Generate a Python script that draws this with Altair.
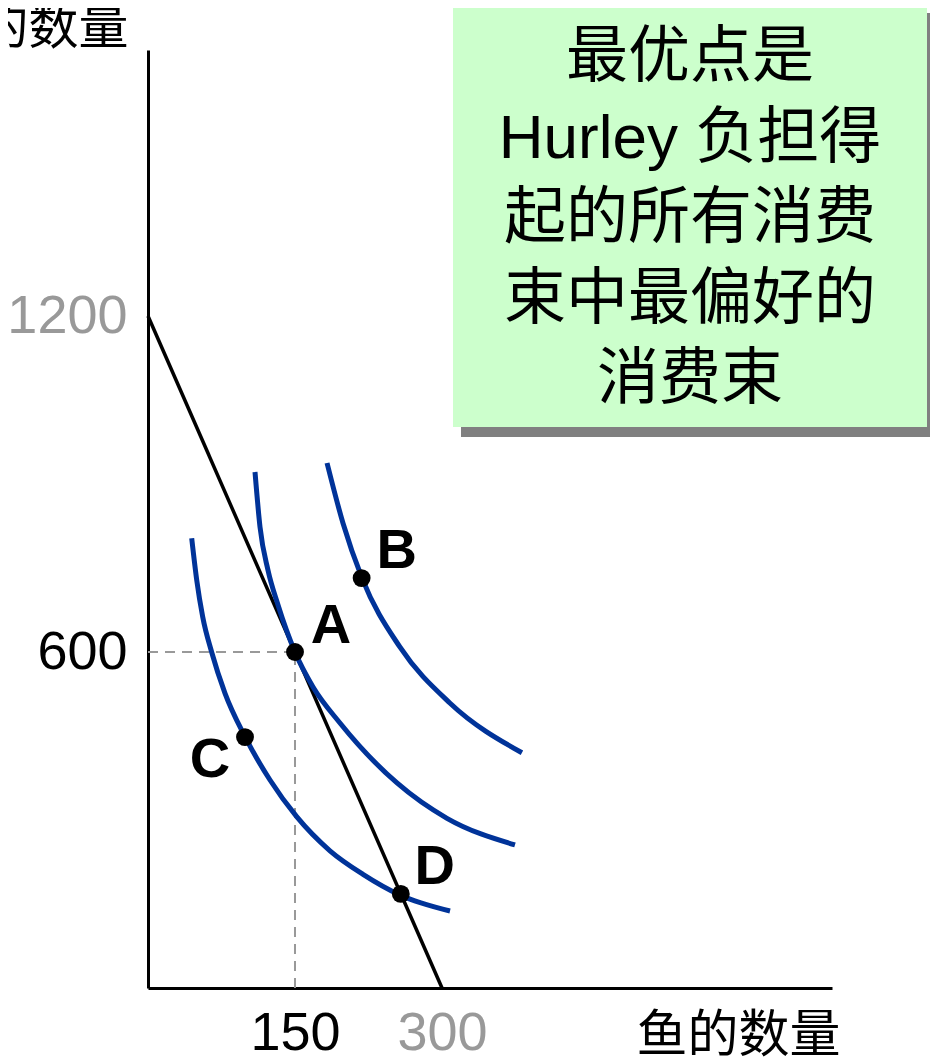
import altair as alt
import pandas as pd

# ---------- data ----------
# indifference curves: quantity of fish (x) vs quantity of the other good (y)
ic1_x = [44.6, 49.7, 55.8, 65.0, 78.6, 99.0, 124.5, 151.7, 185.7, 219.4, 257.1, 308.2]
ic1_y = [803.0, 728.6, 663.0, 599.5, 526.3, 448.8, 371.4, 305.9, 245.0, 203.0, 166.1, 137.5]
ic2_x = [109.2, 114.3, 122.4, 132.7, 150.0, 168.4, 195.9, 254.1, 305.1, 374.5]
ic2_y = [921.4, 823.2, 746.4, 683.9, 600.0, 537.5, 473.2, 366.1, 303.0, 255.4]
ic3_x = [182.7, 199.0, 218.4, 257.0, 308.0, 381.6]
ic3_y = [937.5, 830, 732, 609, 509, 420]

# budget line
budget_x = [0, 300]
budget_y = [1200, 0]

# labelled consumption bundles
pt_names = ["A", "B", "C", "D"]
pt_x = [150, 218, 99, 258]
pt_y = [600, 732, 448, 168]

x_ticks = [150, 300]
y_ticks = [600, 1200]
x_title = "鱼的数量"
y_title = "的数量"
box_lines = ["最优点是", "Hurley 负担得", "起的所有消费", "束中最偏好的", "消费束"]

# ---------- tables ----------
curves = pd.concat([
    pd.DataFrame({"x": ic1_x, "y": ic1_y, "curve": "I1"}),
    pd.DataFrame({"x": ic2_x, "y": ic2_y, "curve": "I2"}),
    pd.DataFrame({"x": ic3_x, "y": ic3_y, "curve": "I3"}),
])
budget = pd.DataFrame({"x": budget_x, "y": budget_y})
points = pd.DataFrame({"name": pt_names, "x": pt_x, "y": pt_y})
ax, ay = pt_x[0], pt_y[0]
guides = pd.DataFrame({"x": [0, ax], "x2": [ax, ax], "y": [ay, 0], "y2": [ay, ay]})
dummy = pd.DataFrame({"d": [0]})

NUM_FONT = "Liberation Sans, Arial"
CJK_FONT = "Noto Sans CJK SC"

xscale = alt.Scale(domain=[0, 698], nice=False, zero=True)
yscale = alt.Scale(domain=[0, 1675], nice=False, zero=True)

x_axis = alt.Axis(
    values=x_ticks, format="d", grid=False, ticks=False, tickSize=0,
    domainColor="black", domainWidth=3,
    labelFont=NUM_FONT, labelFontSize=54, labelPadding=18,
    labelColor={"condition": {"test": "datum.value == 300", "value": "#999999"}, "value": "black"},
    labelFlush=False, labelOverlap=False,
    title=x_title, titleFont=CJK_FONT, titleFontSize=51, titleFontWeight="normal",
    titleColor="black", titleAngle=0, titleAlign="right", titleBaseline="middle",
    titleX=692, titleY=48,
)
y_axis = alt.Axis(
    values=y_ticks, format="d", grid=False, ticks=False, tickSize=0,
    domainColor="black", domainWidth=3,
    labelFont=NUM_FONT, labelFontSize=54, labelPadding=21,
    labelColor={"condition": {"test": "datum.value == 1200", "value": "#999999"}, "value": "black"},
    labelFlush=False, labelOverlap=False,
    title=y_title, titleFont=CJK_FONT, titleFontSize=50, titleFontWeight="normal",
    titleColor="black", titleAngle=0, titleAlign="right", titleBaseline="middle",
    titleX=-20, titleY=-22,
)

guide_layer = alt.Chart(guides).mark_rule(
    color="#999999", strokeWidth=2, strokeDash=[10, 7]
).encode(
    x=alt.X("x:Q", scale=xscale, axis=x_axis),
    x2="x2:Q",
    y=alt.Y("y:Q", scale=yscale, axis=y_axis),
    y2="y2:Q",
)

budget_layer = alt.Chart(budget).mark_line(color="black", strokeWidth=3.5).encode(
    x=alt.X("x:Q", scale=xscale),
    y=alt.Y("y:Q", scale=yscale),
)

curve_layer = alt.Chart(curves).mark_line(
    color="#003399", strokeWidth=5, interpolate="monotone"
).encode(
    x=alt.X("x:Q", scale=xscale),
    y=alt.Y("y:Q", scale=yscale),
    detail="curve:N",
)

point_layer = alt.Chart(points).mark_circle(color="black", size=320, opacity=1).encode(
    x=alt.X("x:Q", scale=xscale),
    y=alt.Y("y:Q", scale=yscale),
)

offsets = {"A": (36, -26), "B": (35, -27), "C": (-35, 23), "D": (34, -27)}
label_layers = []
for n in pt_names:
    dx, dy = offsets[n]
    label_layers.append(
        alt.Chart(points).transform_filter(alt.datum.name == n).mark_text(
            font=NUM_FONT, fontSize=56, fontWeight="bold", color="black",
            align="center", baseline="middle", dx=dx, dy=dy,
        ).encode(
            x=alt.X("x:Q", scale=xscale),
            y=alt.Y("y:Q", scale=yscale),
            text="name:N",
        )
    )

shadow = alt.Chart(dummy).mark_rect(color="#808080").encode(
    x=alt.value(313), x2=alt.value(790), y=alt.value(-37), y2=alt.value(387)
)
box = alt.Chart(dummy).mark_rect(color="#CCFFCC").encode(
    x=alt.value(305), x2=alt.value(779), y=alt.value(-46), y2=alt.value(377)
)
box_text = alt.Chart(dummy).mark_text(
    text=box_lines, font="Liberation Sans, Noto Sans CJK SC", fontSize=62,
    lineHeight=80.5, align="center", baseline="middle", color="black",
).encode(x=alt.value(542), y=alt.value(8))

chart = alt.layer(
    guide_layer, budget_layer, curve_layer, point_layer, *label_layers,
    shadow, box, box_text,
).properties(
    width=684, height=938,
    autosize=alt.AutoSizeParams(type="none"),
    padding={"left": 140, "top": 42, "right": 98, "bottom": 85},
    background="white",
).configure_view(strokeWidth=0, stroke="transparent")

chart.save("out.html", embed_options={"renderer": "svg", "actions": False})
